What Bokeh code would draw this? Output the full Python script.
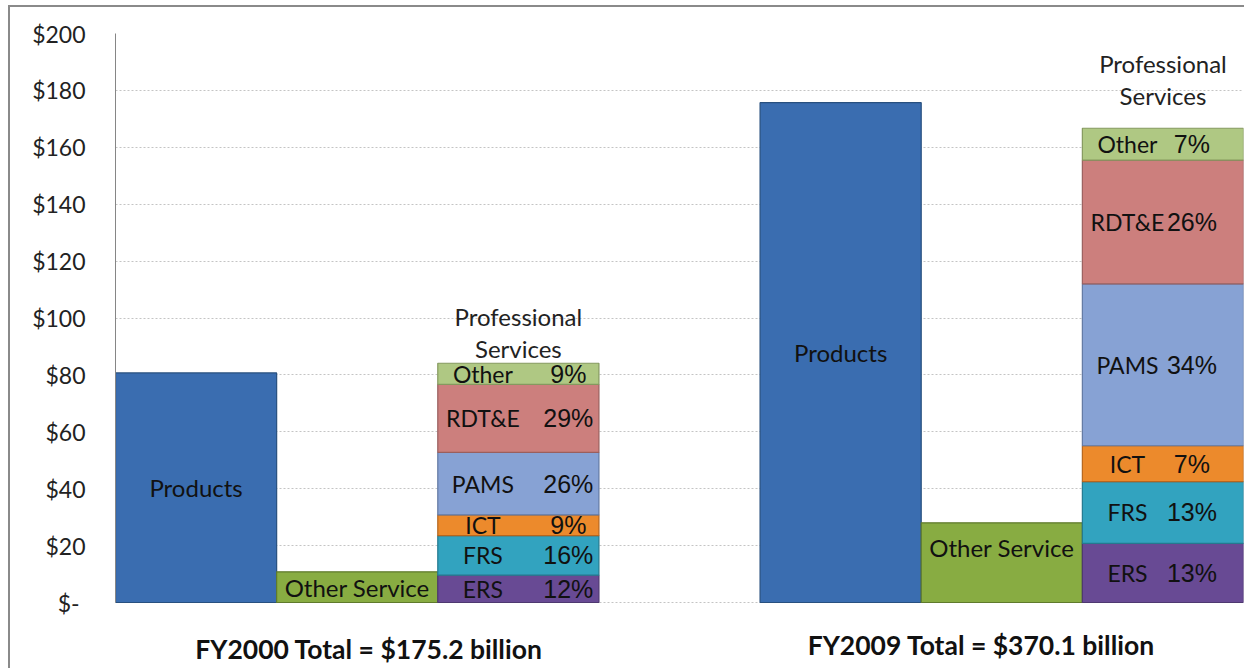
from bokeh.plotting import figure
from bokeh.models import ColumnDataSource, CustomJSTickFormatter, FixedTicker, Range1d
from bokeh.core.properties import value
from bokeh.embed import file_html
from bokeh.resources import INLINE

# ---------------- data ----------------
groups = ["FY2000", "FY2009"]
group_titles = ["FY2000 Total = $175.2 billion", "FY2009  Total = $370.1 billion"]
products = [80.7, 175.7]
other_service = [10.8, 28.0]
segments = ["ERS", "FRS", "ICT", "PAMS", "RDT&E", "Other"]
prof_2000 = [9.6, 13.9, 7.3, 22.0, 23.9, 7.4]
prof_2009 = [20.8, 21.7, 12.6, 56.9, 43.5, 11.2]
pct_2000 = ["12%", "16%", "9%", "26%", "29%", "9%"]
pct_2009 = ["13%", "13%", "7%", "34%", "26%", "7%"]
y_ticks = [0, 20, 40, 60, 80, 100, 120, 140, 160, 180, 200]

# ---------------- styles ----------------
C_PRODUCTS = "#3A6DB0"
C_OTHER_SERVICE = "#88AC42"
SEG_COLORS = ["#684A94", "#32A3BF", "#EC8A2C", "#87A2D4", "#CC7F7D", "#AFC883"]
SEG_LINES = ["#4E3870", "#24798F", "#B5661E", "#6279A3", "#9A5F5E", "#85995F"]
LABEL_FONT = value("Lato")
PCT_FONT = value("Liberation Sans")
name_offset = 0.28              # horizontal centre of segment names inside the slot
pct_offsets = [0.81, 0.68]      # horizontal centre of percentages inside the slot
header_gaps = [5.3, 11.6]       # gap between top of stack and "Services"

p = figure(width=1236, height=663, output_backend="svg", toolbar_location=None,
           x_range=Range1d(0, 7), y_range=Range1d(-23.9, 200),
           min_border_left=105, min_border_right=3, min_border_top=26, min_border_bottom=0)
p.margin = (5, 0, 0, 8)
p.styles = {"border-left": "2px solid #8A8A8A", "border-top": "2px solid #8A8A8A"}
p.outline_line_color = None
p.xaxis.visible = False
p.xgrid.visible = False
p.ygrid.ticker = FixedTicker(ticks=y_ticks)
p.ygrid.grid_line_color = "#C4C4C4"
p.ygrid.grid_line_dash = "2 2"
p.ygrid.grid_line_width = 1

ax = p.yaxis[0]
ax.ticker = FixedTicker(ticks=y_ticks)
ax.bounds = (0, 200)
ax.axis_line_color = "#868686"
ax.axis_line_width = 1
ax.major_tick_line_color = None
ax.minor_tick_line_color = None
ax.major_tick_out = 0
ax.major_tick_in = 0
ax.major_label_standoff = 30
ax.major_label_text_font = "Lato"
ax.major_label_text_font_size = "23px"
ax.major_label_text_color = "#222222"
ax.formatter = CustomJSTickFormatter(code="return tick == 0 ? '$-\u00a0' : '$' + tick;")

# ---------------- bars ----------------
prof_values = [prof_2000, prof_2009]
prof_pcts = [pct_2000, pct_2009]

bx, btop, bbot, bcol, bline = [], [], [], [], []
name_x, name_y, name_t = [], [], []
pct_x, pct_y, pct_t = [], [], []
head_x, head_y, head_t = [], [], []
big_x, big_y, big_t = [], [], []

for g in range(len(groups)):
    base = 4 * g
    # products
    bx.append(base + 0.5); bbot.append(0); btop.append(products[g])
    bcol.append(C_PRODUCTS); bline.append("#28507F")
    big_x.append(base + 0.5); big_y.append(products[g] / 2); big_t.append("Products")
    # other service
    bx.append(base + 1.5); bbot.append(0); btop.append(other_service[g])
    bcol.append(C_OTHER_SERVICE); bline.append("#5F7A2C")
    big_x.append(base + 1.5)
    big_y.append(max(other_service[g] / 2, other_service[g] - 8.6))
    big_t.append("Other Service")
    # professional services stack
    cum = 0.0
    for i, v in enumerate(prof_values[g]):
        bx.append(base + 2.5); bbot.append(cum); btop.append(cum + v)
        bcol.append(SEG_COLORS[i]); bline.append(SEG_LINES[i])
        mid = cum + v / 2
        name_x.append(base + 2 + name_offset); name_y.append(mid); name_t.append(segments[i])
        pct_x.append(base + 2 + pct_offsets[g]); pct_y.append(mid); pct_t.append(prof_pcts[g][i])
        cum += v
    head_x += [base + 2.5, base + 2.5]
    head_y += [cum + header_gaps[g] + 11.0, cum + header_gaps[g]]
    head_t += ["Professional", "Services"]

bars = ColumnDataSource(dict(x=bx, top=btop, bottom=bbot, color=bcol, line=bline))
p.vbar(x="x", width=1.0, top="top", bottom="bottom", source=bars,
       fill_color="color", line_color="line", line_width=1.2)

p.text(x=big_x, y=big_y, text=big_t, text_font=LABEL_FONT, text_font_size="24px",
       text_align="center", text_baseline="middle", text_color="#111111")
p.text(x=name_x, y=name_y, text=name_t, text_font=LABEL_FONT, text_font_size="23px",
       text_align="center", text_baseline="middle", text_color="#111111")
p.text(x=pct_x, y=pct_y, text=pct_t, text_font=PCT_FONT, text_font_size="25px",
       text_align="center", text_baseline="middle", text_color="#111111")
p.text(x=head_x, y=head_y, text=head_t, text_font=LABEL_FONT, text_font_size="24px",
       text_align="center", text_baseline="middle", text_color="#222222")

title_x = [1.573, 5.393]
title_y = [-16.4, -15.0]
p.text(x=title_x, y=title_y, text=group_titles, text_font=LABEL_FONT, text_font_size="26.5px",
       text_font_style="bold", text_align="center", text_baseline="middle",
       text_color="#111111")

open("out.html", "w").write(file_html(p, INLINE))
